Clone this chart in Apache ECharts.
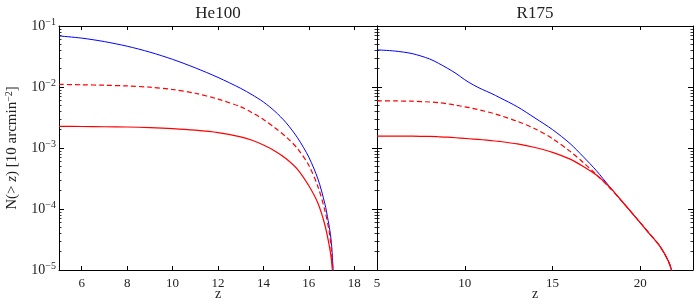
<!DOCTYPE html>
<html>
<head>
<meta charset="utf-8">
<script src="https://cdn.jsdelivr.net/npm/echarts@6/dist/echarts.min.js"></script>
<style>
html, body { margin: 0; padding: 0; background: #fff; }
#chart { width: 700px; height: 306px; }
</style>
</head>
<body>
<div id="chart"></div>
<script>
// He100 panel
const he100Z = [5, 6, 7, 8, 9, 10, 11, 12, 13, 13.5, 14, 14.5, 15, 15.5, 16, 16.4, 16.7, 16.85, 16.95, 17.02, 17.1]
const he100Blue = [0.0687, 0.0633, 0.0555, 0.0466, 0.0373, 0.0284, 0.0206, 0.01435, 0.0095, 0.00746, 0.00568, 0.00401, 0.00259, 0.00147, 0.000706, 0.00031, 0.000124, 0.0000645, 0.0000386, 0.0000207, 0.0000058]
const he100RedZ = [5, 6, 7, 8, 9, 10, 11, 12, 13, 13.5, 14, 14.5, 15, 15.5, 16, 16.4, 16.7, 16.9, 17.0, 17.1]
const he100Dashed = [0.01104, 0.01088, 0.01069, 0.0104, 0.00993, 0.0091, 0.00789, 0.00634, 0.00473, 0.0038, 0.00294, 0.00215, 0.00152, 0.00098, 0.000518, 0.000232, 0.000096, 0.0000416, 0.0000193, 0.0000058]
const he100Solid = [0.00226, 0.00225, 0.00223, 0.00221, 0.00216, 0.00208, 0.00196, 0.00179, 0.00152, 0.00134, 0.00112, 0.000896, 0.000668, 0.000448, 0.00024, 0.000124, 0.0000557, 0.0000249, 0.0000139, 0.0000048]

// R175 panel
const r175Z = [5, 6, 7, 8, 8.5, 9, 9.5, 10, 10.5, 11, 11.5, 12, 13, 14, 15, 16, 16.75, 17.5, 18.25, 19, 19.75, 20.5, 21.1, 21.6, 21.9]
const r175Blue = [0.0406, 0.0389, 0.0353, 0.0288, 0.0245, 0.0204, 0.01667, 0.01315, 0.01076, 0.00912, 0.00788, 0.00668, 0.00473, 0.0031, 0.0020, 0.00118, 0.00072, 0.000424, 0.000232, 0.000129, 0.000072, 0.00004, 0.0000249, 0.0000139, 0.0000077]
const r175Dashed = [0.00593, 0.00591, 0.00585, 0.00568, 0.00553, 0.00531, 0.00503, 0.00473, 0.00443, 0.00411, 0.00378, 0.00343, 0.00273, 0.00207, 0.00142, 0.00088, 0.000578, 0.000366, 0.000223, 0.000129, 0.000072, 0.00004, 0.0000249, 0.0000139, 0.0000077]
const r175Solid = [0.001567, 0.001567, 0.00156, 0.001546, 0.001528, 0.001506, 0.001473, 0.001435, 0.0014, 0.001364, 0.001324, 0.00128, 0.001166, 0.001019, 0.000849, 0.000656, 0.000499, 0.00036, 0.000228, 0.000129, 0.000072, 0.00004, 0.0000249, 0.0000139, 0.0000077]

const panelTitles = ['He100', 'R175']
const he100Ticks = [6, 8, 10, 12, 14, 16, 18]
const r175Ticks = [5, 10, 15, 20]

// minor log ticks 2..9 x 10^n
const minorTicks = []
for (let e = -5; e < -1; e++) {
  for (let m = 2; m <= 9; m++) minorTicks.push(+(m * Math.pow(10, e)).toPrecision(3))
}

const FONT = 'Liberation Serif'
const BLACK = '#000'

function xAxes(gi, xmin, xmax, ticks, title) {
  const line = { show: true, onZero: false, lineStyle: { color: BLACK, width: 1 } }
  return [
    {
      gridIndex: gi, type: 'value', min: xmin, max: xmax, position: 'bottom',
      name: 'z', nameLocation: 'middle', nameGap: 17, nameMoveOverlap: false,
      nameTextStyle: { fontFamily: FONT, fontSize: 14, color: '#222' },
      axisLine: line,
      axisTick: { inside: true, length: 4, customValues: ticks, lineStyle: { color: BLACK } },
      axisLabel: { customValues: ticks, margin: 7, fontFamily: FONT, fontSize: 13, color: '#222' },
      splitLine: { show: false }
    },
    {
      gridIndex: gi, type: 'value', min: xmin, max: xmax, position: 'top',
      name: title, nameLocation: 'middle', nameGap: 4,
      nameTextStyle: { fontFamily: FONT, fontSize: 17, color: '#222' },
      axisLine: line,
      axisTick: { inside: true, length: 4, customValues: ticks, lineStyle: { color: BLACK } },
      axisLabel: { show: false },
      splitLine: { show: false }
    }
  ]
}

function yAxes(gi, withLabels) {
  const base = { gridIndex: gi, type: 'log', logBase: 10, min: 1e-5, max: 0.1, splitLine: { show: false } }
  const major = side => Object.assign({}, base, {
    position: side,
    axisLine: { show: true, onZero: false, lineStyle: { color: BLACK, width: 1 } },
    axisTick: { inside: true, length: 5, lineStyle: { color: BLACK } },
    axisLabel: { show: false }
  })
  const minor = side => Object.assign({}, base, {
    position: side,
    axisLine: { show: false },
    axisTick: { inside: true, length: 2.5, customValues: minorTicks, lineStyle: { color: BLACK, width: 0.8 } },
    axisLabel: { show: false }
  })
  const left = major('left')
  if (withLabels) {
    left.axisLabel = {
      show: true, margin: 3, fontFamily: FONT, color: '#222',
      formatter: v => '{b|10}{s|\u2212' + Math.abs(Math.round(Math.log10(v))) + '}',
      rich: {
        b: { fontFamily: FONT, fontSize: 14, color: '#222' },
        s: { fontFamily: FONT, fontSize: 10, color: '#222', padding: [0, 0, 7, 0] }
      }
    }
    left.name = 'N(> {i|z}) [10 arcmin{s|\u22122}]'
    left.nameLocation = 'middle'
    left.nameGap = 38
    left.nameMoveOverlap = false
    left.nameTextStyle = {
      fontFamily: FONT, fontSize: 15, color: '#222',
      rich: {
        i: { fontFamily: FONT, fontSize: 15, fontStyle: 'italic', color: '#222' },
        s: { fontFamily: FONT, fontSize: 10, color: '#222', padding: [0, 0, 7, 0] }
      }
    }
  }
  return [left, minor('left'), major('right'), minor('right')]
}

function curve(xi, yi, zs, vals, color, dashed) {
  return {
    type: 'line', xAxisIndex: xi, yAxisIndex: yi,
    data: zs.map((z, i) => [z, vals[i]]),
    showSymbol: false, smooth: 0.3, clip: true,
    lineStyle: { color: color, width: color === 'blue' ? 1 : 1.2, type: dashed ? [5, 3] : 'solid' },
    z: color === 'blue' ? 2 : 3
  }
}

const chart = echarts.init(document.getElementById('chart'))
chart.setOption({
  animation: false,
  backgroundColor: '#fff',
  grid: [
    { left: 59, top: 23, width: 318, height: 252 },
    { left: 377, top: 23, width: 316, height: 252 }
  ],
  xAxis: [
    ...xAxes(0, 5, 19, he100Ticks, panelTitles[0]),
    ...xAxes(1, 5, 23, r175Ticks, panelTitles[1])
  ],
  yAxis: [
    ...yAxes(0, true),
    ...yAxes(1, false)
  ],
  series: [
    curve(0, 0, he100Z, he100Blue, 'blue', false),
    curve(0, 0, he100RedZ, he100Dashed, 'red', true),
    curve(0, 0, he100RedZ, he100Solid, 'red', false),
    curve(2, 4, r175Z, r175Blue, 'blue', false),
    curve(2, 4, r175Z, r175Dashed, 'red', true),
    curve(2, 4, r175Z, r175Solid, 'red', false)
  ]
})
</script>
</body>
</html>
